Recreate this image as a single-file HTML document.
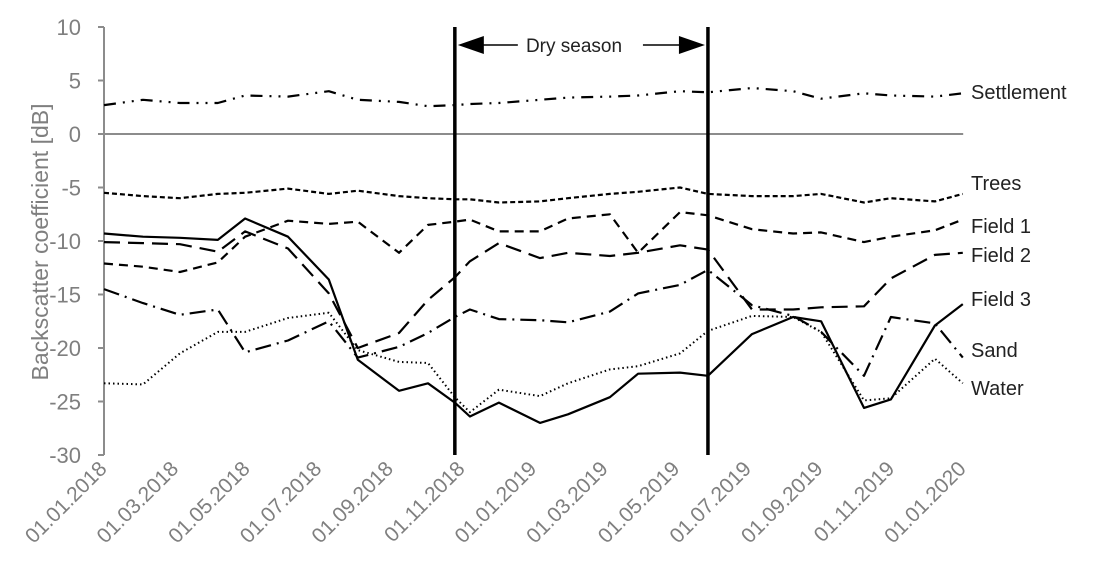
<!DOCTYPE html>
<html><head><meta charset="utf-8"><style>
html,body{margin:0;padding:0;background:#fff;}
svg{display:block;font-family:"Liberation Sans",sans-serif;}
</style></head><body>
<svg id="chart" width="1095" height="573" viewBox="0 0 1095 573" xmlns="http://www.w3.org/2000/svg">
<g id="axes"></g><g id="series"></g><g id="annot"></g>
</svg>
<script>
const months = [0,1.09,2.12,3.18,3.94,5.14,6.28,7.09,8.24,9.05,9.8,10.22,11.03,12.18,12.96,14.13,14.92,16.09,16.87,18.1,19.25,20.03,21.23,21.98,23.21,23.99];
const settlement = [2.7,3.2,2.9,2.9,3.6,3.5,4.0,3.2,3.0,2.6,2.7,2.8,2.9,3.2,3.4,3.5,3.6,4.0,3.9,4.3,4.0,3.3,3.8,3.6,3.5,3.8];
const trees = [-5.5,-5.8,-6.0,-5.6,-5.5,-5.1,-5.6,-5.3,-5.8,-6.0,-6.1,-6.1,-6.4,-6.3,-6.0,-5.6,-5.4,-5.0,-5.6,-5.8,-5.8,-5.6,-6.4,-6.0,-6.3,-5.6];
const field1 = [-12.1,-12.4,-12.9,-12.0,-9.6,-8.1,-8.4,-8.2,-11.1,-8.5,-8.2,-8.0,-9.1,-9.1,-7.9,-7.5,-11.1,-7.3,-7.6,-8.9,-9.3,-9.2,-10.1,-9.6,-9.0,-8.0];
const field2 = [-10.1,-10.2,-10.3,-11.0,-9.1,-10.7,-14.9,-20.0,-18.6,-15.5,-13.4,-11.9,-10.2,-11.6,-11.1,-11.4,-11.1,-10.4,-10.8,-16.4,-16.4,-16.2,-16.1,-13.5,-11.3,-11.1];
const field3 = [-9.3,-9.6,-9.7,-9.9,-7.9,-9.6,-13.6,-21.1,-24.0,-23.3,-25.1,-26.4,-25.1,-27.0,-26.2,-24.6,-22.4,-22.3,-22.6,-18.7,-17.1,-17.5,-25.6,-24.8,-17.9,-15.9];
const sand = [-14.5,-15.8,-16.9,-16.4,-20.4,-19.3,-17.5,-20.9,-19.9,-18.6,-17.1,-16.4,-17.3,-17.4,-17.6,-16.6,-14.9,-14.1,-12.7,-16.0,-17.0,-18.5,-22.6,-17.1,-17.7,-20.9];
const water = [-23.3,-23.4,-20.5,-18.5,-18.5,-17.2,-16.7,-20.2,-21.3,-21.4,-24.6,-26.0,-23.9,-24.5,-23.3,-22.0,-21.7,-20.5,-18.4,-17.0,-17.1,-18.5,-24.9,-24.7,-21.0,-23.3];
const yTicks = [10,5,0,-5,-10,-15,-20,-25,-30];
const xTickMonths = [0,2,4,6,8,10,12,14,16,18,20,22,24];
const xTickLabels = ["01.01.2018","01.03.2018","01.05.2018","01.07.2018","01.09.2018","01.11.2018","01.01.2019","01.03.2019","01.05.2019","01.07.2019","01.09.2019","01.11.2019","01.01.2020"];
const drySeason = [9.8, 16.87];

const NS="http://www.w3.org/2000/svg";
const X0=104, PXM=35.8, Y0=134, PXD=10.7;
const xs=m=>X0+m*PXM, ys=v=>Y0-v*PXD;
function mk(tag,attrs,parent,text){const e=document.createElementNS(NS,tag);for(const k in attrs)e.setAttribute(k,attrs[k]);if(text!==undefined)e.textContent=text;parent.appendChild(e);return e;}
const axes=document.getElementById('axes'), ser=document.getElementById('series'), an=document.getElementById('annot');

let yl=mk('line',{x1:X0,y1:ys(10),x2:X0,y2:ys(-30),stroke:'#8c8c8c','stroke-width':2},axes);


let zl=mk('line',{x1:X0,y1:ys(0),x2:xs(24),y2:ys(0),stroke:'#8c8c8c','stroke-width':2},axes);


yTicks.forEach(v=>{
  let t=mk('line',{x1:X0-6,y1:ys(v),x2:X0,y2:ys(v),stroke:'#8c8c8c','stroke-width':2},axes);
  
  
  let l=mk('text',{x:X0-23,y:ys(v)+8,'text-anchor':'end','font-size':22,fill:'#7f7f7f'},axes,String(v));
  
  
});
let yt=mk('text',{x:0,y:0,transform:'translate(48,242) rotate(-90)','text-anchor':'middle','font-size':23,fill:'#7f7f7f'},axes,'Backscatter coefficient [dB]');


xTickMonths.forEach((m,i)=>{
  const x=xs(m)+4, y=470;
  let l=mk('text',{x:0,y:0,transform:`translate(${x},${y}) rotate(-45)`,'text-anchor':'end','font-size':21,fill:'#7f7f7f'},axes,xTickLabels[i]);
  
  
});

const series=[
  {n:'settlement',d:settlement,dash:'12 7 2 7 2 7',w:2.2},
  {n:'trees',d:trees,dash:'5 3',w:2.2},
  {n:'field-1',d:field1,dash:'9 6',w:2.2},
  {n:'field-2',d:field2,dash:'16 8',w:2.2},
  {n:'field-3',d:field3,dash:'none',w:2.2},
  {n:'sand',d:sand,dash:'16 6 2 6',w:2.2},
  {n:'water',d:water,dash:'1.5 3',w:2}
];
series.forEach(s=>{
  const pts=s.d.map((v,i)=>xs(months[i]).toFixed(1)+','+ys(v).toFixed(1)).join(' ');
  let p=mk('polyline',{points:pts,fill:'none',stroke:'#000','stroke-width':s.w,'stroke-dasharray':s.dash,'stroke-linejoin':'round'},ser);
  
  
});
const labels=[['Settlement',92],['Trees',183],['Field 1',226],['Field 2',255],['Field 3',299],['Sand',350],['Water',388]];
labels.forEach(([t,y])=>{
  let l=mk('text',{x:971,y:y+7,'font-size':20,fill:'#222'},an,t);
  
  
});
drySeason.forEach(m=>{
  let v=mk('line',{x1:xs(m),y1:ys(10),x2:xs(m),y2:ys(-30),stroke:'#000','stroke-width':3.5},an);
  
  
});
const ax1=xs(drySeason[0])+3, ax2=xs(drySeason[1])-3, ay=45;
let a1=mk('polygon',{points:`${ax1},${ay} ${ax1+26},${ay-9} ${ax1+26},${ay+9}`,fill:'#000'},an);


mk('line',{x1:ax1+20,y1:ay,x2:ax1+60,y2:ay,stroke:'#000','stroke-width':1.5},an);
let a2=mk('polygon',{points:`${ax2},${ay} ${ax2-26},${ay-9} ${ax2-26},${ay+9}`,fill:'#000'},an);


mk('line',{x1:ax2-20,y1:ay,x2:ax2-62,y2:ay,stroke:'#000','stroke-width':1.5},an);
let dt=mk('text',{x:574,y:ay+7,'text-anchor':'middle','font-size':19,fill:'#222'},an,'Dry season');


</script>
</body></html>
